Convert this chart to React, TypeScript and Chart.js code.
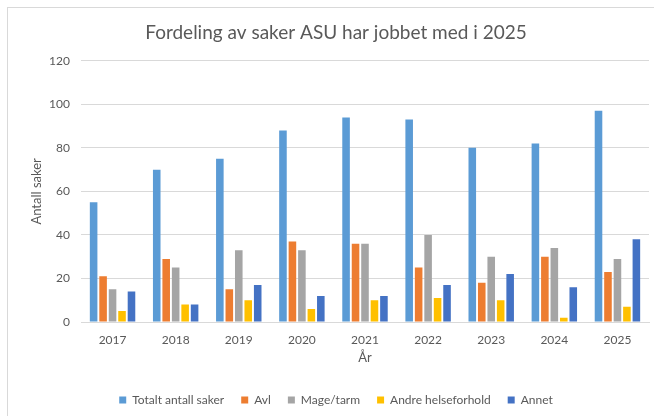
import React, { useEffect, useRef } from "react";
import { Chart, registerables } from "chart.js";

Chart.register(...registerables);

const categories = ["2017", "2018", "2019", "2020", "2021", "2022", "2023", "2024", "2025"];
const totalt = [55, 70, 75, 88, 94, 93, 80, 82, 97];
const avl = [21, 29, 15, 37, 36, 25, 18, 30, 23];
const mageTarm = [15, 25, 33, 33, 36, 40, 30, 34, 29];
const andre = [5, 8, 10, 6, 10, 11, 10, 2, 7];
const annet = [14, 8, 17, 12, 12, 17, 22, 16, 38];
const seriesNames = ["Totalt antall saker", "Avl", "Mage/tarm", "Andre helseforhold", "Annet"];
const yTicks = [0, 20, 40, 60, 80, 100, 120];

const FONT = "Lato";
const TEXT = "#595959";

export default function App() {
  const ref = useRef<HTMLCanvasElement | null>(null);
  useEffect(() => {
    const colors = ["#5B9BD5", "#ED7D31", "#A5A5A5", "#FFC000", "#4472C4"];
    const data = [totalt, avl, mageTarm, andre, annet];
    const chart = new Chart(ref.current as HTMLCanvasElement, {
      type: "bar",
      data: {
        labels: categories,
        datasets: seriesNames.map((name, i) => ({
          label: name,
          data: data[i],
          backgroundColor: colors[i],
          borderWidth: 0,
          barPercentage: 0.8,
          categoryPercentage: 0.75,
        })),
      },
      options: {
        responsive: false,
        animation: false,
        layout: { padding: { left: 23, right: 5, top: 0, bottom: 0 } },
        plugins: {
          title: {
            display: true,
            text: "Fordeling av saker ASU har jobbet med i 2025",
            color: TEXT,
            font: { family: FONT, size: 19, weight: "normal" },
            padding: { top: 21, bottom: 17 },
          },
          legend: {
            position: "bottom",
            labels: {
              boxWidth: 7,
              boxHeight: 7,
              padding: 17,
              color: TEXT,
              font: { family: FONT, size: 12 },
            },
          },
          tooltip: { enabled: false },
        },
        scales: {
          x: {
            grid: { display: false, drawTicks: false },
            border: { display: true, color: "#D9D9D9" },
            ticks: { color: TEXT, font: { family: FONT, size: 12 }, padding: 11 },
            title: {
              display: true,
              text: "År",
              color: TEXT,
              font: { family: FONT, size: 13 },
              padding: { top: 0, bottom: 11 },
            },
            afterFit: (scale: any) => {
              scale.height = 55;
            },
          },
          y: {
            min: 0,
            max: 120,
            afterBuildTicks: (scale: any) => {
              scale.ticks = yTicks.map((v) => ({ value: v }));
            },
            grid: { color: "#D9D9D9", drawTicks: false },
            border: { display: false },
            ticks: { color: TEXT, font: { family: FONT, size: 12 }, padding: 11 },
            title: {
              display: true,
              text: "Antall saker",
              color: TEXT,
              font: { family: FONT, size: 13 },
              padding: { top: 6, bottom: 0 },
            },
            afterFit: (scale: any) => {
              scale.width = 58;
            },
          },
        },
      },
    });
    return () => chart.destroy();
  }, []);

  return (
    <div style={{ position: "fixed", left: 0, top: 0, width: 654, height: 416, overflow: "hidden", background: "#fff" }}>
      <div
        style={{
          position: "absolute",
          left: 7,
          top: 7,
          width: 700,
          height: 500,
          border: "1px solid #D9D9D9",
          boxSizing: "border-box",
        }}
      />
      <canvas ref={ref} width={654} height={416} style={{ position: "absolute", left: 0, top: 0 }} />
    </div>
  );
}
